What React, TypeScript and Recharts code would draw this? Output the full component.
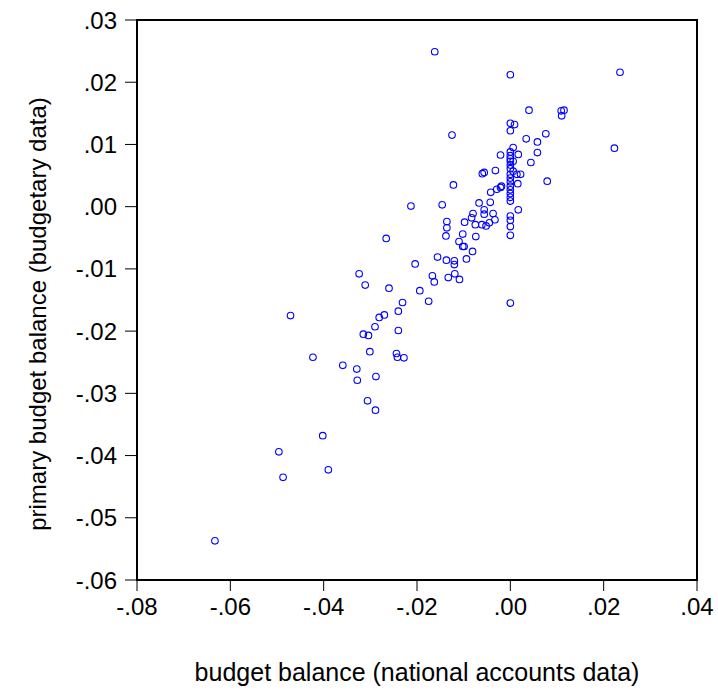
import { ScatterChart, Scatter, XAxis, YAxis, ReferenceArea } from 'recharts';

// national accounts balance (x) vs budgetary primary balance (y)
const xs = [
    -0.0162, 0.0, 0.0235, 0.004, 0.0109, 0.0115, 0.011, 0.0, 0.0009, 0.0,
    -0.0125, 0.0076, 0.0034, 0.0058, 0.0223, 0.0006, 0.0058, -0.0021, 0.0017,
    0.0, 0.0, 0.0, 0.0, 0.0, 0.0, 0.0, 0.0, 0.0, 0.0, 0.0, 0.0, 0.0, 0.0,
    0.0006, 0.0044, -0.006, -0.0056, -0.0032, 0.0006, 0.0014, 0.0022, 0.0079,
    0.0016, -0.0122, -0.0019, -0.0021, -0.0029, -0.0042, -0.0213, -0.0146,
    -0.0067, -0.0043, 0.0017, -0.008, -0.0056, -0.0056, -0.0037, -0.0083,
    -0.0033, 0.0, 0.0, 0.0, 0.0, -0.0136, -0.0098, -0.0075, -0.0061, -0.0052,
    -0.0045, -0.0136, -0.0138, -0.0074, -0.0266, -0.0102, -0.011, -0.0102,
    -0.0099, -0.0081, -0.0094, -0.0156, -0.0137, -0.012, -0.012, -0.0204,
    -0.0167, -0.0119, -0.0133, -0.0109, -0.0163, -0.0324, -0.0311, -0.026,
    -0.0194, -0.0231, -0.0175, 0.0, -0.024, -0.027, -0.0281, -0.0471, -0.029,
    -0.0315, -0.0304, -0.024, -0.0301, -0.0244, -0.0242, -0.0228, -0.0423,
    -0.0359, -0.0329, -0.0288, -0.0328, -0.0306, -0.0289, -0.0402, -0.0496,
    -0.039, -0.0487, -0.0633,
];
const ys = [
    0.0249, 0.0212, 0.0216, 0.0155, 0.0154, 0.0155, 0.0146, 0.0134, 0.0132,
    0.0122, 0.0115, 0.0117, 0.0109, 0.0104, 0.0094, 0.0095, 0.0087, 0.0083,
    0.0084, 0.0088, 0.0082, 0.0077, 0.0073, 0.0067, 0.0061, 0.0052, 0.0046,
    0.004, 0.0033, 0.0027, 0.0021, 0.0015, 0.0009, 0.0073, 0.0071, 0.0053,
    0.0055, 0.0058, 0.0057, 0.0052, 0.0052, 0.0041, 0.0037, 0.0035, 0.0033,
    0.0031, 0.0028, 0.0023, 0.0001, 0.0003, 0.0006, 0.0007, -0.0005, -0.0011,
    -0.0005, -0.0012, -0.0011, -0.0018, -0.0021, -0.0015, -0.0022, -0.0032,
    -0.0046, -0.0024, -0.0025, -0.0029, -0.0029, -0.0031, -0.0026, -0.0034,
    -0.0047, -0.0048, -0.0051, -0.0044, -0.0056, -0.0064, -0.0064, -0.0072,
    -0.0084, -0.0081, -0.0086, -0.0087, -0.0093, -0.0092, -0.0111, -0.0108,
    -0.0114, -0.0117, -0.0121, -0.0108, -0.0126, -0.0131, -0.0135, -0.0154,
    -0.0152, -0.0155, -0.0168, -0.0174, -0.0178, -0.0175, -0.0193, -0.0205,
    -0.0207, -0.0199, -0.0233, -0.0236, -0.0242, -0.0243, -0.0242, -0.0255,
    -0.0261, -0.0273, -0.0279, -0.0312, -0.0327, -0.0368, -0.0394, -0.0423,
    -0.0435, -0.0537,
];

const xTicks = [-0.08, -0.06, -0.04, -0.02, 0.0, 0.02, 0.04];
const yTicks = [0.03, 0.02, 0.01, 0.0, -0.01, -0.02, -0.03, -0.04, -0.05, -0.06];

const xTitle = 'budget balance (national accounts data)';
const yTitle = 'primary budget balance (budgetary data)';

const data = xs.map((x, i) => ({ x, y: ys[i] }));

// .03 / -.01 style labels
const fmt = (v: number) => {
    const s = Math.abs(v).toFixed(2).replace(/^0/, '');
    return v < -1e-9 ? '-' + s : s;
};

const Ring = (props: any) => (
    <circle cx={props.cx} cy={props.cy} r={3.3} fill="none" stroke="#0000ff" strokeWidth={1.1} />
);

const family = 'Liberation Sans, Arial, sans-serif';
const tickFont = { fontFamily: family, fontSize: 24, fill: '#000' };

const YTitle = () => (
    <text
        x={37}
        y={314}
        transform="rotate(-90 37 314)"
        textAnchor="middle"
        dominantBaseline="central"
        fontFamily={family}
        fontSize={24}
        fill="#000"
    >
        {yTitle}
    </text>
);

const XTitle = () => (
    <text x={417} y={672} textAnchor="middle" dominantBaseline="central" fontFamily={family} fontSize={25} fill="#000">
        {xTitle}
    </text>
);

export default function App() {
    return (
        <div style={{ position: 'absolute', left: 0, top: 0, width: 718, height: 693, background: '#fff' }}>
            <ScatterChart width={718} height={693} margin={{ top: 20, right: 21, left: 0, bottom: 0 }}>
                <XAxis
                    type="number"
                    dataKey="x"
                    domain={[-0.08, 0.04]}
                    ticks={xTicks}
                    tickFormatter={fmt}
                    height={113}
                    tickSize={11}
                    tickMargin={7}
                    stroke="#000"
                    tick={tickFont}
                    label={<XTitle />}
                />
                <YAxis
                    type="number"
                    dataKey="y"
                    domain={[-0.06, 0.03]}
                    ticks={yTicks}
                    tickFormatter={fmt}
                    width={137}
                    tickSize={12}
                    tickMargin={8}
                    stroke="#000"
                    tick={tickFont}
                    label={<YTitle />}
                />
                <ReferenceArea x1={-0.08} x2={0.04} y1={-0.06} y2={0.03} fill="none" stroke="#000" strokeWidth={2} />
                <Scatter data={data} shape={Ring} isAnimationActive={false} />
            </ScatterChart>
        </div>
    );
}
